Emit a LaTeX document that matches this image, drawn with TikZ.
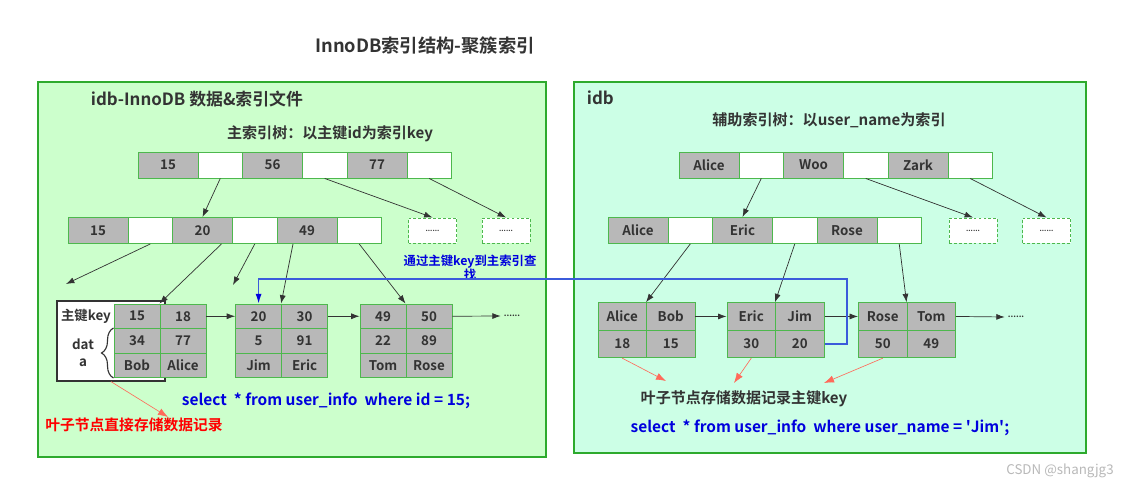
\documentclass[tikz,border=0pt]{standalone}
\usepackage{fontspec}
\setmainfont{Noto Sans CJK SC}[BoldFont={Noto Sans CJK SC Bold}]
\usepackage{tikz}
\usetikzlibrary{arrows.meta,positioning,calc,decorations.pathreplacing}

\definecolor{panelgreen}{HTML}{2DAA2D}
\definecolor{leftfill}{HTML}{CCFFCC}
\definecolor{rightfill}{HTML}{CCFFE6}
\definecolor{cellgray}{HTML}{B8B8B8}
\definecolor{cellline}{HTML}{4DB84D}
\definecolor{inkgray}{HTML}{333333}
\definecolor{sqlblue}{HTML}{0000DD}
\definecolor{linkblue}{HTML}{3B5BDB}
\definecolor{notered}{HTML}{FF0000}
\definecolor{redline}{HTML}{FF6A5A}

\newcommand\pxu{0.025cm}

\begin{document}
\begin{tikzpicture}[
        x=0.025cm, y=-0.025cm,
        font=\bfseries, text=inkgray,
        panel/.style={draw=panelgreen, line width=1.3pt, inner sep=0pt},
        keycell/.style={
            draw=cellline,
            fill=cellgray,
            line width=0.7pt,
            inner sep=0pt,
            minimum width=60*\pxu,
            minimum height=26*\pxu,
            font=\fontsize{9.5}{11}\bfseries
        },
        slotcell/.style={keycell, fill=white, minimum width=44.5*\pxu},
        leafcell/.style={keycell, minimum width=46*\pxu, minimum height=24.5*\pxu},
        rleafcell/.style={keycell, minimum width=48.5*\pxu, minimum height=27.5*\pxu},
        stubcell/.style={
            keycell,
            fill=white,
            dash pattern=on 2pt off 1.5pt,
            minimum width=48*\pxu,
            minimum height=25*\pxu,
            font=\fontsize{5}{6}\bfseries
        },
        ellip/.style={font=\fontsize{6}{7}\bfseries, inner sep=2pt},
        heading/.style={font=\fontsize{12}{14}\bfseries},
        subheading/.style={font=\fontsize{10.7}{13}\bfseries},
        query/.style={text=sqlblue, font=\fontsize{11}{13}\bfseries},
        arrow/.style={-{Latex[length=2.1mm,width=1.5mm]}, draw=inkgray, line width=0.5pt},
        redarrow/.style={-{Latex[length=2.5mm,width=1.8mm]}, draw=redline, line width=0.45pt},
        lookup/.style={-{Latex[length=2.4mm,width=1.5mm,color=sqlblue]}, draw=linkblue, line width=0.8pt}
    ]
        \path[use as bounding box, fill=white] (0,0) rectangle (1126,492);

        \node[font=\fontsize{13}{15}\bfseries] (title) at (425,46) {InnoDB索引结构-聚簇索引};

        \node[panel, fill=leftfill, minimum width=508*\pxu, minimum height=375*\pxu] (lpanel) at (292,269.5) {};
        \node[panel, fill=rightfill, minimum width=512*\pxu, minimum height=371*\pxu] (rpanel) at (830,267.5) {};

        \node[heading, anchor=west] (lhead) at (86,99) {idb-InnoDB 数据\&索引文件};
        \node[subheading] (lsub) at (330,134) {主索引树：以主键id为索引key};
        \node[heading, anchor=west] (rhead) at (582,98) {idb};
        \node[subheading] (rsub) at (829,120) {辅助索引树：以user\_name为索引};

        \foreach \k [count=\i from 0] in {15,56,77} {
            \node[keycell] (ltk\i) at ({168+104.5*\i},165) {\k};
            \node[slotcell] (lts\i) at ({220.25+104.5*\i},165) {};
        }
        \foreach \k [count=\i from 0] in {15,20,49} {
            \node[keycell] (lmk\i) at ({98+104.5*\i},230.5) {\k};
            \node[slotcell] (lms\i) at ({150.25+104.5*\i},230.5) {};
        }
        \foreach \k [count=\i from 0] in {Alice,Woo,Zark} {
            \node[keycell] (rtk\i) at ({709+104.5*\i},165) {\k};
            \node[slotcell] (rts\i) at ({761.25+104.5*\i},165) {};
        }
        \foreach \k [count=\i from 0] in {Alice,Eric,Rose} {
            \node[keycell] (rmk\i) at ({638+104.5*\i},230.5) {\k};
            \node[slotcell] (rms\i) at ({690.25+104.5*\i},230.5) {};
        }
        \node[stubcell] (ld0) at (432.5,230.5) {......};
        \node[stubcell] (ld1) at (506,230.5) {......};
        \node[stubcell] (rd0) at (973,230.5) {......};
        \node[stubcell] (rd1) at (1046.5,230.5) {......};

        \node[draw=inkgray, line width=0.9pt, fill=white, minimum width=108*\pxu, minimum height=80*\pxu] (legend) at (111,341) {};
        \node[font=\fontsize{9.5}{11}\bfseries] (pkey) at (86,316) {主键key};
        \node[font=\fontsize{9.5}{12}\bfseries, align=center] (datalbl) at (83,353) {dat\\a};

        \foreach \lf/\lx/\rw/\a/\b in {0/114/0/15/18, 0/114/1/34/77, 0/114/2/Bob/Alice,
                1/235.6/0/20/30, 1/235.6/1/5/91, 1/235.6/2/Jim/Eric,
                2/360/0/49/50, 2/360/1/22/89, 2/360/2/Tom/Rose} {
            \node[leafcell] (ll\lf r\rw c0) at ({\lx+23},{316.25+24.5*\rw}) {\a};
            \node[leafcell] (ll\lf r\rw c1) at ({\lx+69},{316.25+24.5*\rw}) {\b};
        }
        \foreach \lf/\lx/\rw/\a/\b in {0/598/0/Alice/Bob, 0/598/1/18/15,
                1/727/0/Eric/Jim, 1/727/1/30/20,
                2/858.5/0/Rose/Tom, 2/858.5/1/50/49} {
            \node[rleafcell] (rl\lf r\rw c0) at ({\lx+24.25},{316.45+27.5*\rw}) {\a};
            \node[rleafcell] (rl\lf r\rw c1) at ({\lx+72.75},{316.45+27.5*\rw}) {\b};
        }
        \node[ellip] (ldots) at (512,316) {......};
        \node[ellip] (rdots) at (1016,317) {......};

        \draw[decorate, decoration={brace, amplitude=0.3cm}, draw=inkgray, line width=0.8pt]
            (ll0r2c0.south west) -- (ll0r1c0.north west);

        \node[query] (lquery) at (326,401) {select~ * from user\_info~ where id = 15;};
        \node[text=notered, font=\fontsize{10.5}{12}\bfseries] (leafnote) at (134,425) {叶子节点直接存储数据记录};
        \node[text=sqlblue, font=\fontsize{8.8}{10}\bfseries, align=center] (lookupnote) at (470,268) {通过主键key到主索引查\\找};
        \node[font=\fontsize{10.7}{13}\bfseries] (rnote) at (744,399) {叶子节点存储数据记录主键key};
        \node[query] (rquery) at (820,428) {select~ * from user\_info~ where user\_name = \textquotesingle Jim\textquotesingle;};
        \node[text=gray!55, font=\fontsize{9.5}{11}\mdseries] (mark) at (1060,471) {CSDN @shangjg3};

        \coordinate (lmiss0) at (66,284);
        \coordinate (lmiss1) at (233,285);
        \coordinate (leaftip) at (168,417);
        \coordinate (rtip0) at (666,381);
        \coordinate (rtip1) at (734,383);
        \coordinate (rtip2) at (824,383);
        \coordinate (bend) at (847,279);

        \draw[arrow] (lts0.south) -- (lmk1.north);
        \draw[arrow] (lts1.south) -- (ld0.north);
        \draw[arrow] (lts2.south) -- (ld1.north);
        \draw[arrow] (rts0.south) -- (rmk1.north);
        \draw[arrow] (rts1.south) -- (rd0.north);
        \draw[arrow] (rts2.south) -- (rd1.north);

        \draw[arrow] (lms0.south) -- (lmiss0);
        \draw[arrow] ($(lmk1.south)+(19,0)$) -- (ll0r0c1.north west);
        \draw[arrow] (lms1.south) -- (lmiss1);
        \draw[arrow] ($(lmk2.south)+(-14,0)$) -- (ll1r0c1.north west);
        \draw[arrow] (lms2.south) -- (ll2r0c1.north west);
        \foreach \k in {0,1,2} {
            \draw[arrow] (rms\k.south) -- (rl\k r0c1.north west);
        }

        \foreach \source/\target in {ll0r0c1/ll1r0c0,ll1r0c1/ll2r0c0,ll2r0c1/ldots,rl0r0c1/rl1r0c0,rl1r0c1/rl2r0c0,rl2r0c1/rdots} {
            \draw[arrow] (\source.east) -- (\target.west);
        }

        \draw[redarrow] (legend.south) -- (leaftip);
        \draw[redarrow] (rl0r1c0.south) -- (rtip0);
        \draw[redarrow] (rl1r1c0.south) -- (rtip1);
        \draw[redarrow] (rl2r1c0.south) -- (rtip2);

        \draw[lookup] (rl1r1c1.east) -| (bend) -| (ll1r0c0.north);
    \end{tikzpicture}
\end{document}
